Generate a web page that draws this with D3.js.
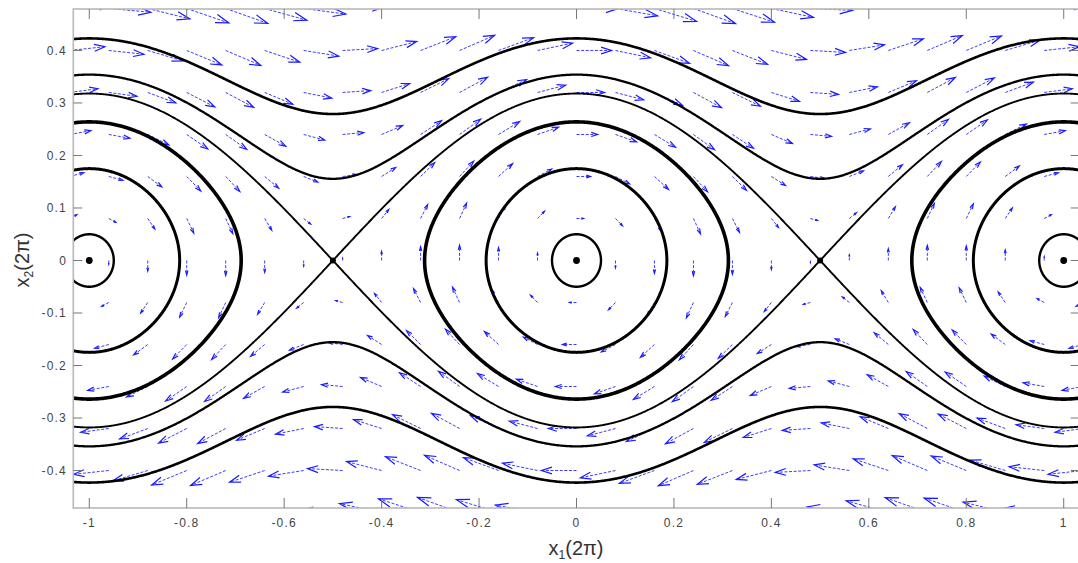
<!DOCTYPE html>
<html><head><meta charset="utf-8">
<script src="https://cdn.jsdelivr.net/npm/d3@7"></script>
<style>body{margin:0;background:#fff}svg{display:block}</style>
</head><body>
<svg id="c" width="1078" height="563"></svg>
<script>
// ---- data ----
const xTicks = [-1, -0.8, -0.6, -0.4, -0.2, 0, 0.2, 0.4, 0.6, 0.8, 1];
const yTicks = [-0.4, -0.3, -0.2, -0.1, 0, 0.1, 0.2, 0.3, 0.4];
const xTickLabels = ["-1", "-0.8", "-0.6", "-0.4", "-0.2", "0", "0.2", "0.4", "0.6", "0.8", "1"];
const yTickLabels = ["-0.4", "-0.3", "-0.2", "-0.1", "0", "0.1", "0.2", "0.3", "0.4"];
const separatrixAmp = 0.318;            // x2 of separatrix at x1 = 0
const openLevels = [0.423, 0.354];       // x2 of rotating orbits at x1 = 0
const closedLevels = [0.264, 0.175, 0.05]; // x2 of librating orbits at centre
const centers = [-1, 0, 1];
const saddles = [-0.5, 0.5];
const quiverX = [-1.04, -0.96, -0.88, -0.8, -0.72, -0.64, -0.56, -0.48, -0.4, -0.32, -0.24, -0.16, -0.08, 0,
                 0.08, 0.16, 0.24, 0.32, 0.4, 0.48, 0.56, 0.64, 0.72, 0.8, 0.88, 0.96, 1.04];
const quiverY = [-0.48, -0.4, -0.32, -0.24, -0.16, -0.08, 0, 0.08, 0.16, 0.24, 0.32, 0.4, 0.48];
const forceAmp = 0.161;                  // amplitude of dx2/dt
// ---- layout / style ----
const W = 1078, H = 563;
const plot = {left: 73.3, right: 1079.7, top: 9, bottom: 508};
const openWidths = [2.6, 2.3];
const closedWidths = [3.6, 3.0, 2.4];
const sepWidth = 1.9;
const arrowScale = 0.18;

const svg = d3.select("#c");
const x = d3.scaleLinear().domain([-1.0328, 1.0328]).range([plot.left, plot.right]);
const y = d3.scaleLinear().domain([-0.4714, 0.479]).range([plot.bottom, plot.top]);

svg.append("defs").append("clipPath").attr("id", "clip")
  .append("rect").attr("x", plot.left).attr("y", plot.top)
  .attr("width", plot.right - plot.left).attr("height", plot.bottom - plot.top);

const g = svg.append("g").attr("clip-path", "url(#clip)");
const S = separatrixAmp;

// quiver
const qg = g.append("g").attr("stroke", "#1a1aff").attr("fill", "none").attr("stroke-width", 1);
const alpha = 0.3, beta = 0.3;
quiverX.forEach(px => quiverY.forEach(py => {
  const u = py * arrowScale, v = -forceAmp * Math.sin(2 * Math.PI * px) * arrowScale;
  if (Math.hypot(u, v) < 1e-9) return;
  const tx = px + u, ty = py + v;
  qg.append("line").attr("x1", x(px)).attr("y1", y(py)).attr("x2", x(tx)).attr("y2", y(ty))
    .attr("stroke-dasharray", "3,1.6").attr("stroke-opacity", 0.85);
  const h1x = tx - alpha * (u + beta * v), h1y = ty - alpha * (v - beta * u);
  const h2x = tx - alpha * (u - beta * v), h2y = ty - alpha * (v + beta * u);
  qg.append("path").attr("d", `M${x(h1x)},${y(h1y)}L${x(tx)},${y(ty)}L${x(h2x)},${y(h2y)}`)
    .attr("stroke-width", 1.2);
}));

const line = d3.line().x(d => x(d[0])).y(d => y(d[1]));
const cg = g.append("g").attr("fill", "none").attr("stroke", "#000")
  .attr("stroke-linejoin", "round").attr("stroke-linecap", "round");

// rotating orbits
openLevels.forEach((A, i) => {
  [1, -1].forEach(sg => {
    const pts = d3.range(0, 1201).map(k => {
      const xv = -1.1 + k * 2.2 / 1200;
      const s = Math.sin(Math.PI * xv);
      return [xv, sg * Math.sqrt(A * A - S * S * s * s)];
    });
    cg.append("path").attr("d", line(pts)).attr("stroke-width", openWidths[i]);
  });
});
// separatrix
[1, -1].forEach(sg => {
  const pts = d3.range(0, 2201).map(k => {
    const xv = -1.1 + k * 0.001;
    return [xv, sg * S * Math.abs(Math.cos(Math.PI * xv))];
  });
  cg.append("path").attr("d", line(pts)).attr("stroke-width", sepWidth);
});
// librating orbits
centers.forEach(c => closedLevels.forEach((A, i) => {
  const pts = d3.range(0, 721).map(k => {
    const th = k * 2 * Math.PI / 720;
    return [c + Math.asin((A / S) * Math.sin(th)) / Math.PI, A * Math.cos(th)];
  });
  cg.append("path").attr("d", line(pts) + "Z").attr("stroke-width", closedWidths[i]);
}));
// equilibrium points
centers.forEach(c => g.append("circle").attr("cx", x(c)).attr("cy", y(0)).attr("r", 3.4).attr("fill", "#000"));
saddles.forEach(c => g.append("circle").attr("cx", x(c)).attr("cy", y(0)).attr("r", 3).attr("fill", "#000"));

// frame
const fg = svg.append("g").attr("fill", "none");
fg.append("rect").attr("x", plot.left).attr("y", plot.top)
  .attr("width", plot.right - plot.left).attr("height", plot.bottom - plot.top)
  .attr("stroke", "#b8b8b8").attr("stroke-width", 1.6);
const tl = 10;
xTicks.forEach(t => {
  fg.append("line").attr("x1", x(t)).attr("x2", x(t)).attr("y1", plot.bottom).attr("y2", plot.bottom - tl).attr("stroke", "#777");
  fg.append("line").attr("x1", x(t)).attr("x2", x(t)).attr("y1", plot.top).attr("y2", plot.top + tl).attr("stroke", "#777");
});
yTicks.forEach(t => {
  fg.append("line").attr("y1", y(t)).attr("y2", y(t)).attr("x1", plot.left).attr("x2", plot.left + 9).attr("stroke", "#777");
  fg.append("line").attr("y1", y(t)).attr("y2", y(t)).attr("x1", plot.right).attr("x2", plot.right - 9).attr("stroke", "#777");
});
const font = "'Liberation Sans', Arial, sans-serif";
const tg = svg.append("g").attr("font-family", font).attr("fill", "#444").attr("font-size", 12).attr("letter-spacing", "1.2px");
xTicks.forEach((t, i) => tg.append("text").attr("x", x(t)).attr("y", 527).attr("text-anchor", "middle").text(xTickLabels[i]));
yTicks.forEach((t, i) => tg.append("text").attr("x", 67).attr("y", y(t) + 4.3).attr("text-anchor", "end").text(yTickLabels[i]));

const lab = svg.append("g").attr("font-family", font).attr("fill", "#333").attr("font-size", 20);
const xl = lab.append("text").attr("x", 576).attr("y", 555).attr("text-anchor", "middle");
xl.append("tspan").text("x");
xl.append("tspan").attr("font-size", 12).attr("dy", 4).text("1");
xl.append("tspan").attr("dy", -4).text("(2π)");
const yl = lab.append("text").attr("transform", "translate(29,260) rotate(-90)").attr("text-anchor", "middle");
yl.append("tspan").text("x");
yl.append("tspan").attr("font-size", 12).attr("dy", 4).text("2");
yl.append("tspan").attr("dy", -4).text("(2π)");
</script>
</body></html>
